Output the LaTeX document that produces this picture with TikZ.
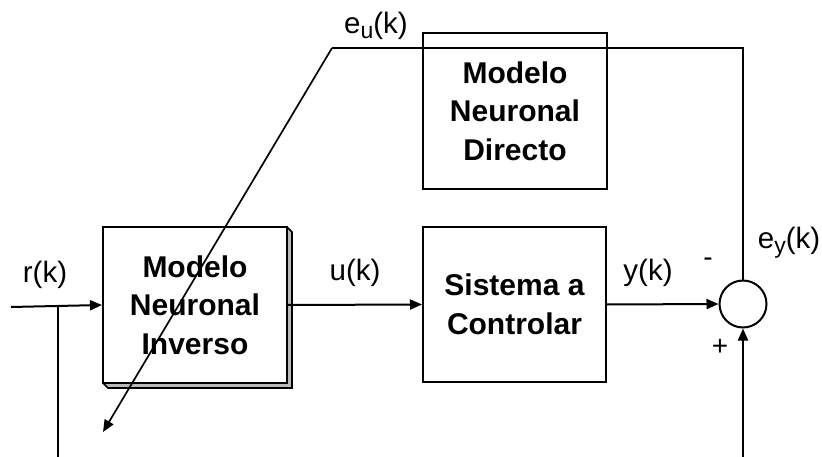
\documentclass[tikz,border=0pt]{standalone}
\usepackage{fontspec}
\setmainfont{Liberation Sans}
\usetikzlibrary{arrows.meta}
\newcommand{\lowsub}[1]{\raisebox{-0.32ex}{\fontsize{23}{23}\selectfont #1}}
\begin{document}
\begin{tikzpicture}[x=1pt,y=-1pt,
  line width=2pt,
  arr/.style={-{Triangle[length=12pt,width=10pt]}},
  blk/.style={draw,line width=2pt,inner sep=0pt,align=center,font=\fontsize{30}{38.5}\selectfont\bfseries},
  lbl/.style={inner sep=0pt,font=\fontsize{29.5}{34}\selectfont},
  sgn/.style={inner sep=0pt,font=\fontsize{28}{30}\selectfont}]
\useasboundingbox (0,0) rectangle (822,457);
% shadow of inverse model block
\filldraw[fill=gray!55,line width=1.6pt] (287,227) -- (292,232) -- (292,388) -- (108,388) -- (103,383) -- cycle;
\node[blk,fill=white,minimum width=184pt,minimum height=156pt] (inv) at (195,305) {Modelo\\Neuronal\\Inverso};
\node[blk,minimum width=184pt,minimum height=156pt] (dir) at (515,111) {Modelo\\Neuronal\\Directo};
\node[blk,minimum width=183pt,minimum height=155pt] (sys) at (514.5,304.5) {Sistema a\\Controlar};
\node[draw,circle,minimum size=47pt,inner sep=0pt,line width=2pt] (sum) at (743,304) {};
% coordinates
\coordinate (rin) at (11,307);
\coordinate (rbr) at (58,307);
\coordinate (rbot) at (58,457);
\coordinate (tl) at (332,48);
\coordinate (tr) at (743,48);
\coordinate (tip) at (103,432);
\coordinate (bot) at (743,457);
% connectors
\draw[arr] (rin) -- (inv.west);
\draw (rbr) -- (rbot);
\draw[arr] (inv.east) -- (sys.west);
\draw[arr] (sys.east) -- (sum.west);
\draw[arr] (bot) -- (sum.south);
\draw (sum.north) -- (tr) -- (tl);
\draw[arr,line width=1.7pt] (tl) -- (tip);
% labels
\node[lbl] (lr) at (45,275) {r(k)};
\node[lbl] (lu) at (355,273) {u(k)};
\node[lbl] (ly) at (648,273) {y(k)};
\node[lbl] (leu) at (376,26) {e\lowsub{u}(k)};
\node[lbl] (ley) at (789,243) {e\lowsub{y}(k)};
\node[sgn] (minus) at (708,262) {-};
\node[sgn] (plus) at (720,347) {+};
\end{tikzpicture}
\end{document}
